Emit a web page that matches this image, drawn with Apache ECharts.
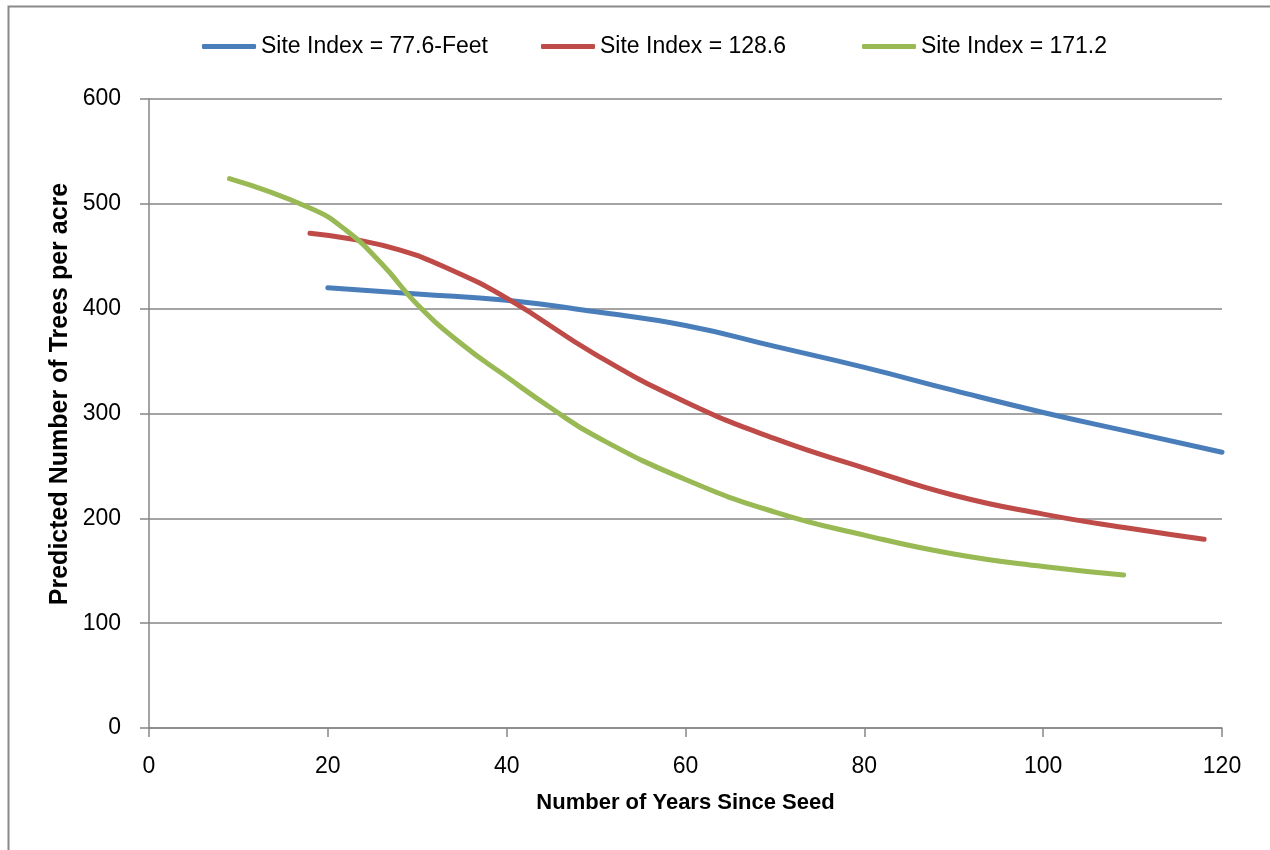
<!DOCTYPE html>
<html>
<head>
<meta charset="utf-8">
<script src="https://cdn.jsdelivr.net/npm/echarts@6/dist/echarts.min.js"></script>
<style>
html,body{margin:0;padding:0;background:#fff;}
#chart{width:1270px;height:850px;}
</style>
</head>
<body>
<div id="chart"></div>
<script>
var seriesNames = ['Site Index = 77.6-Feet', 'Site Index = 128.6', 'Site Index = 171.2'];
var xTicks = [0, 20, 40, 60, 80, 100, 120];
var yTicks = [0, 100, 200, 300, 400, 500, 600];

var blueYears = [20, 30, 40, 50, 60, 70, 80, 90, 100, 110, 120];
var blueTrees = [420, 414, 408, 397, 384, 364, 344, 322, 301, 282, 263];

var redYears = [18, 23, 28, 33, 40, 50, 60, 70, 80, 90, 100, 110, 118];
var redTrees = [472, 466, 456, 440, 410, 356, 311, 276, 248, 222, 204, 190, 180];

var greenYears = [9, 18, 22, 26, 30, 35, 40, 45, 50, 60, 70, 80, 90, 100, 109];
var greenTrees = [524, 496, 475, 443, 404, 366, 335, 305, 278, 237, 206, 184, 166, 154, 146];

var colors = ['#4A7EBB', '#BE4B48', '#98B954'];
var FONT = '"Liberation Sans", Arial, sans-serif';

function pairs(xs, ys) { return xs.map(function (x, i) { return [x, ys[i]]; }); }

var chart = echarts.init(document.getElementById('chart'), null, { renderer: 'canvas' });

function mkSeries(idx, xs, ys) {
  return {
    name: seriesNames[idx],
    type: 'line',
    data: pairs(xs, ys),
    smooth: 0.5,
    symbol: 'none',
    showSymbol: false,
    lineStyle: { color: colors[idx], width: 5, cap: 'round', join: 'round' },
    itemStyle: { color: colors[idx] },
    z: 3 + idx
  };
}

function mkLegend(idx, left) {
  return {
    data: [seriesNames[idx]],
    left: left,
    top: 35,
    padding: 0,
    itemWidth: 54,
    itemHeight: 5,
    icon: 'roundRect',
    textStyle: { fontFamily: FONT, fontSize: 23, color: '#000' }
  };
}

var option = {
  animation: false,
  backgroundColor: '#fff',
  textStyle: { fontFamily: FONT },
  legend: [mkLegend(0, 202), mkLegend(1, 541), mkLegend(2, 862)],
  grid: { left: 149, right: 48, top: 99, bottom: 122, containLabel: false },
  xAxis: {
    type: 'value',
    min: xTicks[0],
    max: xTicks[xTicks.length - 1],
    interval: 20,
    name: 'Number of Years Since Seed',
    nameLocation: 'middle',
    nameGap: 64,
    nameTextStyle: { fontFamily: FONT, fontSize: 22, fontWeight: 'bold', color: '#000' },
    axisLine: { show: true, lineStyle: { color: '#868686', width: 1.5 } },
    axisTick: { show: true, inside: false, length: 9, lineStyle: { color: '#868686', width: 1.5 } },
    axisLabel: { fontFamily: FONT, fontSize: 23, color: '#000', margin: 27 },
    splitLine: { show: false }
  },
  yAxis: {
    type: 'value',
    min: yTicks[0],
    max: yTicks[yTicks.length - 1],
    interval: 100,
    axisLine: { show: true, lineStyle: { color: '#868686', width: 1.5 } },
    axisTick: { show: true, inside: false, length: 9, lineStyle: { color: '#868686', width: 1.5 } },
    axisLabel: { fontFamily: FONT, fontSize: 23, color: '#000', margin: 28 },
    splitLine: { show: true, lineStyle: { color: '#868686', width: 1.5 } }
  },
  graphic: [
    {
      type: 'rect',
      shape: { x: 8.5, y: 6.5, width: 1400, height: 1000 },
      style: { fill: 'none', stroke: '#898989', lineWidth: 2 },
      silent: true
    },
    {
      type: 'text',
      x: 60,
      y: 394,
      rotation: Math.PI / 2,
      style: {
        text: 'Predicted Number of Trees per acre',
        fontFamily: FONT,
        fontSize: 25,
        fontWeight: 'bold',
        fill: '#000',
        align: 'center',
        verticalAlign: 'middle'
      }
    }
  ],
  series: [
    mkSeries(0, blueYears, blueTrees),
    mkSeries(1, redYears, redTrees),
    mkSeries(2, greenYears, greenTrees)
  ]
};
chart.setOption(option);
</script>
</body>
</html>
